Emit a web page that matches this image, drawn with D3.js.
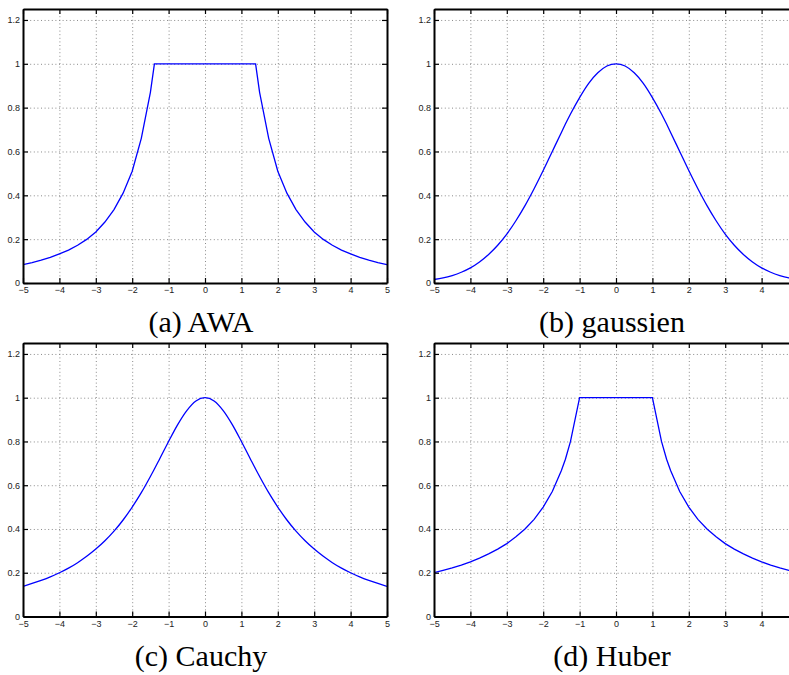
<!DOCTYPE html>
<html lang="fr">
<head>
  <meta charset="UTF-8">
  <title>Fonctions de poids</title>
  <script src="https://cdn.jsdelivr.net/npm/d3@7"></script>
  <style>
    body { margin: 0; background: #fff; }
    svg { display: block; }
  </style>
</head>
<body>
<script>
  const sampleX = [-5, -4.75, -4.5, -4.25, -4, -3.75, -3.5, -3.25, -3, -2.75, -2.5, -2.25, -2, -1.75, -1.5, -1.39, -1.25, -1, -0.75, -0.5, -0.25,
    0, 0.25, 0.5, 0.75, 1, 1.25, 1.39, 1.5, 1.75, 2, 2.25, 2.5, 2.75, 3, 3.25, 3.5, 3.75, 4, 4.25, 4.5, 4.75, 5]

  const awaValues = [0.084, 0.093, 0.104, 0.117, 0.133, 0.150, 0.172, 0.199, 0.233, 0.278, 0.335, 0.41, 0.51, 0.66, 0.87, 1, 1, 1, 1, 1, 1,
    1, 1, 1, 1, 1, 1, 1, 0.87, 0.66, 0.51, 0.41, 0.335, 0.278, 0.233, 0.199, 0.172, 0.150, 0.133, 0.117, 0.104, 0.093, 0.084]

  const gaussValues = [0.016, 0.023, 0.034, 0.049, 0.069, 0.096, 0.130, 0.172, 0.223, 0.284, 0.353, 0.430, 0.513, 0.600, 0.687, 0.725, 0.771, 0.846, 0.911, 0.959, 0.990,
    1, 0.990, 0.959, 0.911, 0.846, 0.771, 0.725, 0.687, 0.600, 0.513, 0.430, 0.353, 0.284, 0.223, 0.172, 0.130, 0.096, 0.069, 0.049, 0.034, 0.023, 0.016]

  const cauchyValues = [0.138, 0.151, 0.165, 0.181, 0.2, 0.221, 0.246, 0.275, 0.308, 0.346, 0.390, 0.441, 0.5, 0.566, 0.64, 0.674, 0.719, 0.8, 0.877, 0.941, 0.985,
    1, 0.985, 0.941, 0.877, 0.8, 0.719, 0.674, 0.64, 0.566, 0.5, 0.441, 0.390, 0.346, 0.308, 0.275, 0.246, 0.221, 0.2, 0.181, 0.165, 0.151, 0.138]

  const huberValues = [0.2, 0.211, 0.222, 0.235, 0.25, 0.267, 0.286, 0.308, 0.333, 0.364, 0.4, 0.444, 0.5, 0.571, 0.667, 0.719, 0.8, 1, 1, 1, 1,
    1, 1, 1, 1, 1, 0.8, 0.719, 0.667, 0.571, 0.5, 0.444, 0.4, 0.364, 0.333, 0.308, 0.286, 0.267, 0.25, 0.235, 0.222, 0.211, 0.2]

  const xTicks = [-5, -4, -3, -2, -1, 0, 1, 2, 3, 4, 5]
  const yTicks = [0, 0.2, 0.4, 0.6, 0.8, 1, 1.2]
  const captions = ['(a) AWA', '(b) gaussien', '(c) Cauchy', '(d) Huber']

  const width = 789
  const height = 675

  // position des 4 sous-figures (celles de droite sont rognees par le bord)
  const panels = [
    {left: 23, top: 9, w: 364, h: 274, values: awaValues, curve: d3.curveLinear},
    {left: 434, top: 9, w: 364, h: 274, values: gaussValues, curve: d3.curveMonotoneX},
    {left: 23, top: 343, w: 364, h: 273.5, values: cauchyValues, curve: d3.curveMonotoneX},
    {left: 434, top: 343, w: 364, h: 273.5, values: huberValues, curve: d3.curveLinear}
  ]

  const svg = d3.select("body").append("svg")
    .attr("width", width)
    .attr("height", height)
    .attr("viewBox", [0, 0, width, height])

  const fmt = d => d3.format("")(d).replace("-", "\u2212")

  panels.forEach((p, i) => {
    const x = d3.scaleLinear().domain([-5, 5]).range([0, p.w])
    const y = d3.scaleLinear().domain([0, 1.25]).range([p.h, 0])

    const g = svg.append("g").attr("transform", `translate(${p.left},${p.top})`)

    // grille pointillee
    g.append("g")
      .attr("stroke", "#8a8a8a")
      .attr("stroke-width", 1)
      .attr("stroke-dasharray", "1,2.6")
      .call(gr => gr.selectAll("line.vx")
        .data(xTicks.slice(1, -1))
        .join("line")
        .attr("class", "vx")
        .attr("x1", d => x(d) + 0.5).attr("x2", d => x(d) + 0.5)
        .attr("y1", 0).attr("y2", p.h))
      .call(gr => gr.selectAll("line.hy")
        .data(yTicks.slice(1))
        .join("line")
        .attr("class", "hy")
        .attr("x1", 0).attr("x2", p.w)
        .attr("y1", d => y(d) + 0.5).attr("y2", d => y(d) + 0.5))

    // courbe
    const clipId = `clip${i}`
    g.append("clipPath").attr("id", clipId)
      .append("rect").attr("width", p.w).attr("height", p.h)

    const line = d3.line()
      .x((d, j) => x(sampleX[j]))
      .y(d => y(d))
      .curve(p.curve)

    g.append("path")
      .datum(p.values)
      .attr("clip-path", `url(#${clipId})`)
      .attr("fill", "none")
      .attr("stroke", "#0000ff")
      .attr("stroke-width", 1.3)
      .attr("d", line)

    // axes
    const styleAxis = a => {
      a.select(".domain").attr("stroke", "#000").attr("stroke-width", 2)
      a.selectAll(".tick line").attr("stroke", "#000").attr("stroke-width", 1.2)
      a.selectAll("text")
        .attr("fill", "#222")
        .attr("font-family", "'Liberation Sans', Arial, sans-serif")
        .attr("font-size", 9)
    }

    // pas d'etiquette au-dela du bord de l'image
    const visibleTicks = xTicks.filter(t => p.left + x(t) + 3 < width)

    g.append("g")
      .attr("transform", `translate(0,${p.h})`)
      .call(d3.axisBottom(x).tickValues(visibleTicks).tickFormat(fmt).tickSize(-5).tickSizeOuter(0).tickPadding(4))
      .call(styleAxis)

    g.append("g")
      .call(d3.axisTop(x).tickValues(visibleTicks).tickFormat("").tickSize(-5).tickSizeOuter(0))
      .call(styleAxis)

    g.append("g")
      .call(d3.axisLeft(y).tickValues(yTicks).tickFormat(fmt).tickSize(-5).tickSizeOuter(0).tickPadding(3))
      .call(styleAxis)

    g.append("g")
      .attr("transform", `translate(${p.w},0)`)
      .call(d3.axisRight(y).tickValues(yTicks).tickFormat("").tickSize(-5).tickSizeOuter(0))
      .call(styleAxis)

    // legende sous la figure
    svg.append("text")
      .attr("x", p.left + p.w / 2 - 4)
      .attr("y", p.top + p.h + 49)
      .attr("text-anchor", "middle")
      .attr("font-family", "'Liberation Serif', 'Times New Roman', serif")
      .attr("font-size", 30)
      .attr("fill", "#000")
      .text(captions[i])
  })
</script>
</body>
</html>
